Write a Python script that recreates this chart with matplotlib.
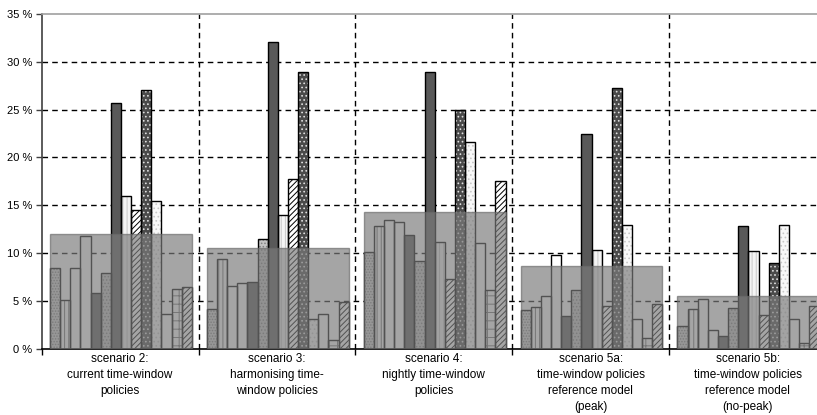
import matplotlib.pyplot as plt
from matplotlib.patches import Rectangle

plt.rcParams['font.family'] = ['Liberation Sans', 'DejaVu Sans']
plt.rcParams['hatch.linewidth'] = 0.7

# scenario labels
scenarios = ['scenario 2:\ncurrent time-window\npolicies',
             'scenario 3:\nharmonising time-\nwindow policies',
             'scenario 4:\nnightly time-window\npolicies',
             'scenario 5a:\ntime-window policies\nreference model\n(peak)',
             'scenario 5b:\ntime-window policies\nreference model\n(no-peak)']

# 14 series per scenario (values in %)
s2 = [8.4, 5.1, 8.4, 11.8, 5.8, 7.9, 25.7, 16.0, 14.5, 27.1, 15.4, 3.6, 6.2, 6.5]
s3 = [4.2, 9.4, 6.6, 6.9, 7.0, 11.5, 32.1, 14.0, 17.7, 28.9, 3.1, 3.6, 0.9, 4.9]
s4 = [10.1, 12.8, 13.5, 13.3, 11.9, 9.2, 28.9, 11.2, 7.3, 25.0, 21.6, 11.1, 6.1, 17.5]
s5a = [4.0, 4.4, 5.5, 9.85, 3.4, 6.1, 22.4, 10.3, 4.5, 27.3, 12.9, 3.1, 1.1, 4.7]
s5b = [2.4, 4.1, 5.2, 2.0, 1.3, 4.3, 12.8, 10.2, 3.5, 9.0, 12.9, 3.1, 0.6, 4.5]
groups = [s2, s3, s4, s5a, s5b]

# average level drawn as the grey block over each group
averages = [12.0, 10.5, 14.3, 8.6, 5.5]

# fill, hatch, hatch colour for each of the 14 series
faces = ['#d4d4d4', '#ffffff', '#ffffff', '#ffffff', '#595959', '#c4c4c4', '#595959',
         '#f4f4f4', '#ffffff', '#4a4a4a', '#f8f8f8', '#ffffff', '#ffffff', '#ffffff']
hatches = ['......', '||||', '', '', '', '.....', '', '||||', '//////', '....', '....', '', '++', '//////']
hcolors = ['#808080', '#707070', 'none', 'none', 'none', '#808080', 'none',
           '#c8c8c8', '#000000', '#e0e0e0', '#c8c8c8', 'none', '#707070', '#000000']

fig = plt.figure(figsize=(8.17, 4.15), dpi=100)
ax = fig.add_axes([41.7 / 817, 66.3 / 415, 784.3 / 817, 334.7 / 415])

bw = 0.0646
off = 0.053
for i, vals in enumerate(groups):
    for j, v in enumerate(vals):
        x = i + off + j * bw
        ax.bar(x, v, width=bw, align='edge', color=faces[j], hatch=hatches[j],
               edgecolor=hcolors[j] if hatches[j] else faces[j], linewidth=0, zorder=2)
        ax.bar(x, v, width=bw, align='edge', fill=False, edgecolor='black',
               linewidth=1.0, zorder=3)
    ax.add_patch(Rectangle((i + off, 0), 14 * bw, averages[i], facecolor='#7a7a7a',
                           edgecolor='#6a6a6a', linewidth=1, alpha=0.68, zorder=4))

ax.set_xlim(0, 5)
ax.set_ylim(0, 35)

# grid
for y in range(5, 35, 5):
    ax.axhline(y, color='black', linewidth=1, linestyle=(0, (4, 3)), zorder=1)
for xb in range(1, 5):
    ax.axvline(xb, color='black', linewidth=1, linestyle=(0, (4, 3)), zorder=1)

ax.set_yticks(range(0, 40, 5))
ax.set_yticklabels(['%d %%' % v for v in range(0, 40, 5)], fontsize=8)
ax.set_xticks(range(0, 6))
ax.set_xticklabels([])
ax.set_xticks([i + 0.5 for i in range(5)], minor=True)
ax.set_xticklabels(scenarios, minor=True, fontsize=8.5, linespacing=1.45)
ax.tick_params(axis='x', which='minor', length=0, pad=3)
ax.tick_params(axis='x', which='major', length=4, direction='out', width=1)
ax.tick_params(axis='y', length=4, direction='out', width=1, pad=3, colors='#404040',
               labelcolor='black')

ax.spines['top'].set_color('#a0a0a0')
ax.spines['left'].set_color('#404040')
ax.spines['bottom'].set_color('black')
ax.spines['right'].set_visible(False)
for sp in ax.spines.values():
    sp.set_linewidth(1.2)

fig.savefig('out.png', dpi=100)
